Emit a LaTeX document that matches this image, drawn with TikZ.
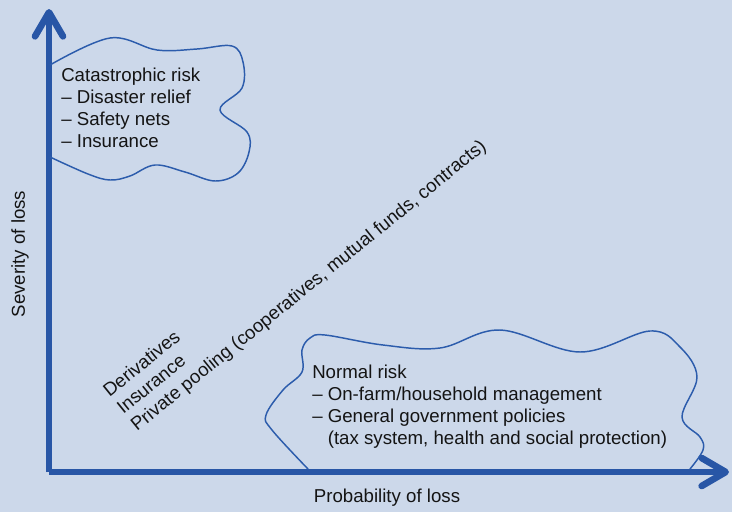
\documentclass[tikz,border=0pt]{standalone}
\usepackage{fontspec}
\setmainfont{Liberation Sans}
\usetikzlibrary{arrows.meta}

\definecolor{bgblue}{RGB}{204,216,234}
\definecolor{axisblue}{RGB}{40,86,166}
\definecolor{cloudblue}{RGB}{44,92,172}
\definecolor{txtgray}{RGB}{20,20,20}

\begin{document}
\begin{tikzpicture}[x=0.75pt,y=-0.75pt,
  axis/.style={axisblue, line width=5pt, -{Straight Barb[length=18pt,width=21pt,round]}},
  cloud/.style={cloudblue, line width=1.1pt},
  txtblock/.style={txtgray, font=\fontsize{14}{16.5}\selectfont, inner sep=0pt, align=left}]

  % background and page size
  \fill[bgblue] (0,0) rectangle (732,512);
  \useasboundingbox (0,0) rectangle (732,512);

  % the two axes
  \coordinate (origin) at (49,472);
  \coordinate (ytip) at (49,9);
  \coordinate (xtip) at (729,472);
  \draw[axis] (origin) -- (ytip);
  \draw[axis] (origin) -- (xtip);

  \node[txtblock, rotate=90] (ylabel) at (20,254) {Severity of loss};
  \node[txtblock] (xlabel) at (387,498) {Probability of loss};

  % catastrophic risk cloud (upper left)
  \draw[cloud] plot[smooth, tension=0.6] coordinates {(50,65) (110,38) (157,50) (197,49) (232,46) (243,62)
    (242,88) (220,110) (247,132) (249,152) (238,173) (215,181) (185,172) (155,165) (130,176)
    (110,180) (88,174) (50,157)};
  % base anchor sits on the last line
  \node[txtblock, anchor=base west] (catrisk) at (61,147)
    {Catastrophic risk\\-- Disaster relief\\-- Safety nets\\-- Insurance};

  % normal risk cloud (lower right)
  \draw[cloud] plot[smooth, tension=0.6] coordinates {(308,469) (272,430) (266,415) (283,390) (302,372)
    (302,350) (310,338) (325,335) (383,345) (440,348) (500,330) (580,352) (650,331) (680,347)
    (697,377) (682,417) (700,437) (703,450) (690,469)};
  \node[txtblock, anchor=base west] (normrisk) at (312,444)
    {Normal risk\\-- On-farm/household management\\-- General government policies\\\hphantom{-- }(tax system, health and social protection)};

  % instruments along the diagonal
  \node[txtblock, anchor=base west, rotate=39] (pooling) at (137,432)
    {Derivatives\\Insurance\\Private pooling (cooperatives, mutual funds, contracts)};

\end{tikzpicture}
\end{document}
